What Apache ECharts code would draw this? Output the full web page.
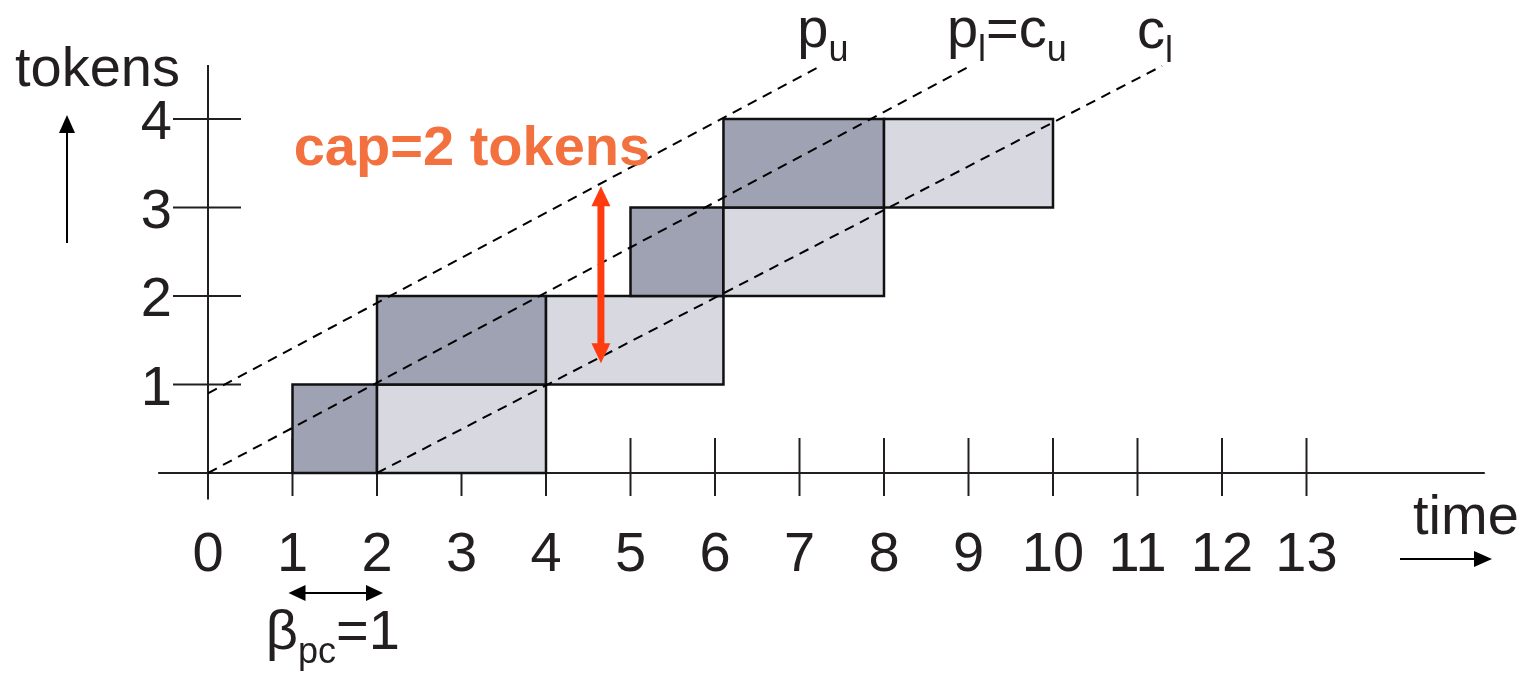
<!DOCTYPE html>
<html>
<head>
<meta charset="utf-8">
<script src="https://cdn.jsdelivr.net/npm/echarts@6/dist/echarts.min.js"></script>
<style>
  html, body { margin: 0; padding: 0; background: #ffffff; }
  #chart { width: 1527px; height: 677px; }
</style>
</head>
<body>
<div id="chart"></div>
<script>
// ---- data ---------------------------------------------------------------
// labelled ticks on the time axis and on the token axis
const timeTicks = [0, 1, 2, 3, 4, 5, 6, 7, 8, 9, 10, 11, 12, 13];
const tokenTicks = [1, 2, 3, 4];

// producer firings: [start, end, token low, token high]
const producerBoxes = [[1, 2, 0, 1], [2, 4, 1, 2], [5, 6.1, 2, 3], [6.1, 8, 3, 4]];
// consumer firings: [start, end, token low, token high]
const consumerBoxes = [[2, 4, 0, 1], [4, 6.1, 1, 2], [6.1, 8, 2, 3], [8, 10, 3, 4]];

// bounding lines: [t start, tokens start, t end, tokens end]
const boundNames = ['p_u', 'p_l=c_u', 'c_l'];
const boundLines = [[0, 0.9, 7.27, 4.61], [0, 0, 9.04, 4.61], [2, 0, 11.29, 4.6]];

// buffer capacity, drawn at [time, lower token level]
const capacity = 2;
const capacityAt = [4.65, 1.24];

// producer-consumer distance, starting at time betaStart
const beta = 1;
const betaStart = 1;

// visible extent of the two axis lines
const timeAxisExtent = [-0.59, 15.11];
const tokenAxisExtent = [-0.3, 4.61];

// ---- styles -------------------------------------------------------------
const FONT = "'Liberation Sans', Arial, Helvetica, sans-serif";
const INK = '#231f20';
const DARK = '#9fa2b2';
const LIGHT = '#d7d8e0';
const ORANGE = '#f3703f';
const RED = '#ff3c10';
const SIZE = 56;
const SUB = 36;

// text measurement for laying out subscripts
const measureCtx = document.createElement('canvas').getContext('2d');
function textWidth(s, size) {
  measureCtx.font = size + 'px ' + FONT;
  return measureCtx.measureText(s).width;
}

// "p_l=c_u" -> text elements with lowered, smaller subscripts;
// (x, y) is the anchor, y the middle of the main letters
function subscriptText(str, x, y, align) {
  const parts = [];
  const re = /_([a-z]+)/g;
  let last = 0, m;
  while ((m = re.exec(str)) !== null) {
    if (m.index > last) parts.push({ t: str.slice(last, m.index), sub: false });
    parts.push({ t: m[1], sub: true });
    last = m.index + m[0].length;
  }
  if (last < str.length) parts.push({ t: str.slice(last), sub: false });
  parts.forEach(p => { p.w = textWidth(p.t, p.sub ? SUB : SIZE); });
  const total = parts.reduce((s, p) => s + p.w, 0);
  let cx = align === 'center' ? x - total / 2 : (align === 'right' ? x - total : x);
  return parts.map(p => {
    const el = {
      type: 'text', x: cx, y: p.sub ? y + 19 : y,
      style: { text: p.t, fontSize: p.sub ? SUB : SIZE, fontFamily: FONT, fill: INK, align: 'left', verticalAlign: 'middle' }
    };
    cx += p.w;
    return el;
  });
}

function arrowHead(tip, dir, len, half, color) {
  // dir: unit vector pointing toward the tip
  const bx = tip[0] - dir[0] * len, by = tip[1] - dir[1] * len;
  const nx = -dir[1] * half, ny = dir[0] * half;
  return {
    type: 'polygon',
    shape: { points: [tip, [bx + nx, by + ny], [bx - nx, by - ny]] },
    style: { fill: color }
  };
}

const chart = echarts.init(document.getElementById('chart'), null, { renderer: 'canvas' });

const boxData = producerBoxes.map(b => b.concat(0)).concat(consumerBoxes.map(b => b.concat(1)));
// draw row by row so later firings overlap earlier ones
boxData.sort((a, b) => a[2] - b[2] || a[0] - b[0]);

const option = {
  animation: false,
  backgroundColor: '#ffffff',
  grid: { left: 208, top: 119, width: 845, height: 354 },
  xAxis: { type: 'value', min: 0, max: 10, show: false },
  yAxis: { type: 'value', min: 0, max: 4, show: false },
  series: [
    {
      // axis lines
      type: 'custom',
      data: [[0]],
      silent: true,
      renderItem(params, api) {
        const a0 = api.coord([timeAxisExtent[0], 0]);
        const a1 = api.coord([timeAxisExtent[1], 0]);
        const b0 = api.coord([0, tokenAxisExtent[0]]);
        const b1 = api.coord([0, tokenAxisExtent[1]]);
        const st = { stroke: INK, lineWidth: 2 };
        return {
          type: 'group',
          children: [
            { type: 'line', shape: { x1: a0[0], y1: a0[1], x2: a1[0], y2: a1[1] }, style: st },
            { type: 'line', shape: { x1: b0[0], y1: b0[1], x2: b1[0], y2: b1[1] }, style: st }
          ]
        };
      }
    },
    {
      // time ticks and labels
      type: 'custom',
      data: timeTicks.map(t => [t]),
      silent: true,
      renderItem(params, api) {
        const t = api.value(0);
        const p = api.coord([t, 0]);
        const children = [{
          type: 'text', x: p[0], y: p[1] + 83,
          style: { text: String(t), fontSize: SIZE, fontFamily: FONT, fill: INK, align: 'center', verticalAlign: 'middle' }
        }];
        if (t !== 0) {
          children.push({ type: 'line', shape: { x1: p[0], y1: p[1] - 35, x2: p[0], y2: p[1] + 23 }, style: { stroke: INK, lineWidth: 2 } });
        }
        return { type: 'group', children };
      }
    },
    {
      // token ticks and labels
      type: 'custom',
      data: tokenTicks.map(v => [0, v]),
      silent: true,
      renderItem(params, api) {
        const p = api.coord([0, api.value(1)]);
        return {
          type: 'group',
          children: [
            { type: 'line', shape: { x1: p[0] - 35, y1: p[1], x2: p[0] + 33, y2: p[1] }, style: { stroke: INK, lineWidth: 2 } },
            { type: 'text', x: p[0] - 36, y: p[1] + 5,
              style: { text: String(api.value(1)), fontSize: SIZE, fontFamily: FONT, fill: INK, align: 'right', verticalAlign: 'middle' } }
          ]
        };
      }
    },
    {
      // producer (dark) and consumer (light) firings
      type: 'custom',
      data: boxData,
      silent: true,
      renderItem(params, api) {
        const p0 = api.coord([api.value(0), api.value(3)]);
        const p1 = api.coord([api.value(1), api.value(2)]);
        return {
          type: 'rect',
          shape: { x: p0[0], y: p0[1], width: p1[0] - p0[0], height: p1[1] - p0[1] },
          style: { fill: api.value(4) ? LIGHT : DARK, stroke: '#111111', lineWidth: 2.5 }
        };
      }
    },
    {
      // dashed bounding lines with their names
      type: 'custom',
      data: boundLines,
      silent: true,
      renderItem(params, api) {
        const s = api.coord([api.value(0), api.value(1)]);
        const e = api.coord([api.value(2), api.value(3)]);
        return {
          type: 'group',
          children: [
            { type: 'line', shape: { x1: s[0], y1: s[1], x2: e[0], y2: e[1] },
              style: { stroke: '#000000', lineWidth: 2, lineDash: [10, 7] } }
          ].concat(subscriptText(boundNames[params.dataIndex], e[0] - 25, e[1] - 33, 'left'))
        };
      }
    },
    {
      // buffer capacity arrow
      type: 'custom',
      data: [[capacityAt[0], capacityAt[1], capacity]],
      silent: true,
      renderItem(params, api) {
        const lo = api.coord([api.value(0), api.value(1)]);
        const hi = api.coord([api.value(0), api.value(1) + api.value(2)]);
        return {
          type: 'group',
          children: [
            { type: 'rect', shape: { x: lo[0] - 3.5, y: hi[1] + 18, width: 7, height: lo[1] - hi[1] - 36 }, style: { fill: RED } },
            arrowHead(hi, [0, -1], 20, 9.5, RED),
            arrowHead(lo, [0, 1], 20, 9.5, RED),
            { type: 'text', x: hi[0] - 129, y: hi[1] - 37,
              style: { text: 'cap=' + api.value(2) + ' tokens', fontSize: SIZE, fontWeight: 'bold', fontFamily: FONT,
                       fill: ORANGE, align: 'center', verticalAlign: 'middle' } }
          ]
        };
      }
    },
    {
      // producer-consumer distance arrow below the time axis
      type: 'custom',
      data: [[betaStart, beta]],
      silent: true,
      renderItem(params, api) {
        const a = api.coord([api.value(0), 0]);
        const b = api.coord([api.value(0) + api.value(1), 0]);
        const y = a[1] + 120;
        const l = [a[0] - 4, y], r = [b[0] + 6, y];
        return {
          type: 'group',
          children: [
            { type: 'line', shape: { x1: l[0] + 12, y1: y, x2: r[0] - 12, y2: y }, style: { stroke: '#000000', lineWidth: 2 } },
            arrowHead(l, [-1, 0], 17, 8, '#000000'),
            arrowHead(r, [1, 0], 17, 8, '#000000')
          ].concat(subscriptText('β_pc=' + api.value(1), (a[0] + b[0]) / 2 - 2, y + 41, 'center'))
        };
      }
    }
  ],
  graphic: [
    // axis names with direction arrows
    { type: 'text', left: 15, top: 43, style: { text: 'tokens', fontSize: SIZE, fontFamily: FONT, fill: INK } },
    { type: 'line', shape: { x1: 67, y1: 243, x2: 67, y2: 128 }, style: { stroke: '#000000', lineWidth: 2 } },
    { type: 'polygon', shape: { points: [[67, 115], [59, 133], [75, 133]] }, style: { fill: '#000000' } },
    { type: 'text', left: 1413, top: 491, style: { text: 'time', fontSize: SIZE, fontFamily: FONT, fill: INK } },
    { type: 'line', shape: { x1: 1400, y1: 559, x2: 1478, y2: 559 }, style: { stroke: '#000000', lineWidth: 2 } },
    { type: 'polygon', shape: { points: [[1492, 559], [1474, 551], [1474, 567]] }, style: { fill: '#000000' } }
  ]
};

chart.setOption(option);
</script>
</body>
</html>
